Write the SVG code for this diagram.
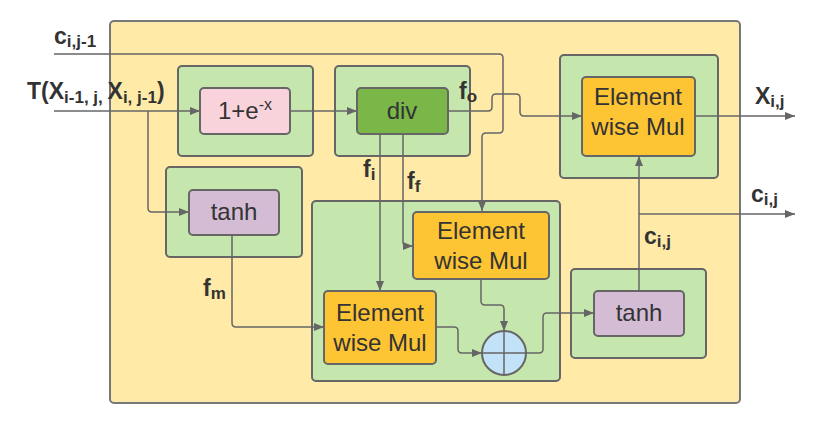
<svg xmlns="http://www.w3.org/2000/svg" width="822" height="422" viewBox="0 0 822 422">
<defs>
<marker id="ah" markerWidth="10" markerHeight="8" refX="10" refY="4" orient="auto" markerUnits="userSpaceOnUse">
<path d="M0,0 L10,4 L0,8 Z" fill="#666"/>
</marker>
<style>
.outer{fill:#ffeaa7;stroke:#777;stroke-width:2}
.grn{fill:#c5e7ad;stroke:#666;stroke-width:2}
.pink{fill:#f9d3dc;stroke:#666;stroke-width:2}
.dgrn{fill:#7ab648;stroke:#666;stroke-width:2}
.org{fill:#fdc434;stroke:#666;stroke-width:2}
.pur{fill:#d4bcd5;stroke:#666;stroke-width:2}
.circ{fill:#c1e2f7;stroke:#666;stroke-width:2}
.ln{fill:none;stroke:#666;stroke-width:1.5;stroke-linejoin:round}
.lbl{font-family:"Liberation Sans",Arial,sans-serif;font-size:24px;fill:#333;text-anchor:middle}
.var{font-family:"Liberation Sans",Arial,sans-serif;font-weight:bold;font-size:23px;fill:#333}
.sub{font-size:17px}
</style>
</defs>
<rect class="outer" x="110" y="21" width="630" height="382" rx="4"/>
<g id="exp">
<rect class="grn" x="178" y="66" width="135" height="90" rx="4"/>
<rect class="pink" x="200" y="88" width="90" height="46" rx="4"/>
<text class="lbl" x="245" y="119">1+e<tspan dy="-9" font-size="16">-x</tspan></text>
</g>
<g id="div">
<rect class="grn" x="335" y="66" width="135" height="90" rx="4"/>
<rect class="dgrn" x="357" y="88" width="91" height="46" rx="4"/>
<text class="lbl" x="402" y="119">div</text>
</g>
<g id="tanh1">
<rect class="grn" x="166" y="167" width="136" height="90" rx="4"/>
<rect class="pur" x="189" y="190" width="90" height="45" rx="4"/>
<text class="lbl" x="234" y="220">tanh</text>
</g>
<g id="cell">
<rect class="grn" x="312" y="201" width="248" height="180" rx="4"/>
</g>
<g id="mul_f">
<rect class="org" x="413" y="212" width="136" height="67" rx="4"/>
<text class="lbl" x="481" y="239">Element</text>
<text class="lbl" x="481" y="269">wise Mul</text>
</g>
<g id="mul_i">
<rect class="org" x="324" y="291" width="112" height="73" rx="4"/>
<text class="lbl" x="380" y="321">Element</text>
<text class="lbl" x="380" y="351">wise Mul</text>
</g>
<g id="add">
<circle class="circ" cx="504" cy="353" r="22"/>
<path class="ln" d="M482,353 H526 M504,331 V375" stroke-width="2"/>
</g>
<g id="tanh2">
<rect class="grn" x="571" y="269" width="135" height="89" rx="4"/>
<rect class="pur" x="594" y="291" width="90" height="45" rx="4"/>
<text class="lbl" x="639" y="321">tanh</text>
</g>
<g id="mul_o">
<rect class="grn" x="560" y="55" width="158" height="123" rx="4"/>
<rect class="org" x="582" y="77" width="113" height="79" rx="4"/>
<text class="lbl" x="638" y="105">Element</text>
<text class="lbl" x="638" y="135">wise Mul</text>
</g>
<g id="connectors">
<path class="ln" d="M54,54 H499 Q503,54 503,58 V129 Q503,133 499,133 H486 Q482,133 482,137 V211" marker-end="url(#ah)"/>
<path class="ln" d="M54,111 H200" marker-end="url(#ah)"/>
<path class="ln" d="M148,111 V208 Q148,212 152,212 H189" marker-end="url(#ah)"/>
<path class="ln" d="M290,111 H357" marker-end="url(#ah)"/>
<path class="ln" d="M448,111 H488 Q492,111 492,107 V98 Q492,94 496,94 H516 Q520,94 520,98 V112 Q520,116 524,116 H582" marker-end="url(#ah)"/>
<path class="ln" d="M380,134 V291" marker-end="url(#ah)"/>
<path class="ln" d="M403,134 V242 Q403,246 407,246 H413" marker-end="url(#ah)"/>
<path class="ln" d="M232,235 V323 Q232,327 236,327 H324" marker-end="url(#ah)"/>
<path class="ln" d="M481,279 V301 Q481,305 485,305 H500 Q504,305 504,309 V331" marker-end="url(#ah)"/>
<path class="ln" d="M436,327 H454 Q458,327 458,331 V349 Q458,353 462,353 H482" marker-end="url(#ah)"/>
<path class="ln" d="M526,353 H539 Q543,353 543,349 V317 Q543,313 547,313 H594" marker-end="url(#ah)"/>
<path class="ln" d="M639,291 V156" marker-end="url(#ah)"/>
<path class="ln" d="M639,214 H795" marker-end="url(#ah)"/>
<path class="ln" d="M695,116 H795" marker-end="url(#ah)"/>
</g>
<g id="labels">
<text class="var" x="54" y="44">c<tspan class="sub" dy="3">i,j-1</tspan></text>
<text class="var" x="27" y="99" font-size="25">T(X<tspan class="sub" font-size="18" dy="4">i-1, j, </tspan><tspan dy="-4">X</tspan><tspan class="sub" font-size="18" dy="4">i, j-1</tspan><tspan dy="-4">)</tspan></text>
<text class="var" x="755" y="104">X<tspan class="sub" dy="3">i,j</tspan></text>
<text class="var" x="751" y="202">c<tspan class="sub" dy="3">i,j</tspan></text>
<text class="var" x="644" y="244">c<tspan class="sub" dy="3">i,j</tspan></text>
<text class="var" x="459" y="99">f<tspan class="sub" dy="3">o</tspan></text>
<text class="var" x="363" y="177">f<tspan class="sub" dy="3">i</tspan></text>
<text class="var" x="407" y="189">f<tspan class="sub" dy="3">f</tspan></text>
<text class="var" x="203" y="296">f<tspan class="sub" dy="3">m</tspan></text>
</g>
</svg>
